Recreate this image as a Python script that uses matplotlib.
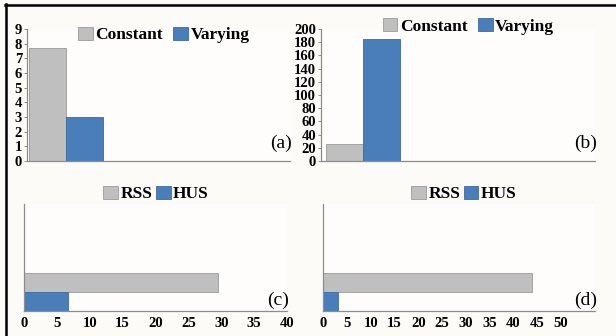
import matplotlib
matplotlib.use("Agg")
import matplotlib.pyplot as plt
from matplotlib.lines import Line2D

plt.rcParams['font.family'] = ['Liberation Serif', 'DejaVu Serif']

#DATA
top_series = ["Constant", "Varying"]
a_values = [7.7, 3.02]
b_values = [26.2, 184.8]
a_ticks = [0, 1, 2, 3, 4, 5, 6, 7, 8, 9]
b_ticks = [0, 20, 40, 60, 80, 100, 120, 140, 160, 180, 200]

bottom_series = ["RSS", "HUS"]
c_values = [29.5, 6.64]
d_values = [43.9, 3.15]
c_ticks = [0, 5, 10, 15, 20, 25, 30, 35, 40]
d_ticks = [0, 5, 10, 15, 20, 25, 30, 35, 40, 45, 50]

gray = "#bfbfbf"
blue = "#4a7ebb"
W, H = 616, 336

fig = plt.figure(figsize=(W / 100, H / 100), dpi=100, facecolor="#fdfbf8")


def px_axes(x0, y0, x1, y1):
    # pixel box (top-left origin) -> figure axes
    return fig.add_axes([x0 / W, 1 - y1 / H, (x1 - x0) / W, (y1 - y0) / H])


def style(ax):
    ax.set_facecolor("#fefdfc")
    for s in ["top", "right"]:
        ax.spines[s].set_visible(False)
    for s in ["left", "bottom"]:
        ax.spines[s].set_color("#8c8c8c")
        ax.spines[s].set_linewidth(0.9)


def legend(ax, xy, colsp):
    ax.legend(loc="center", bbox_to_anchor=xy, ncol=2, frameon=False,
              prop={"weight": "bold", "size": 12.5}, handlelength=0.85,
              handleheight=0.8, handletextpad=0.15, columnspacing=colsp,
              borderaxespad=0, borderpad=0)


def vbars(ax, values, ticks, xmax, start, label, legend_xy):
    cols = [gray, blue]
    edges = ["#9a9a9a", "#3d6b9f"]
    for i, v in enumerate(values):
        ax.bar(start + i, v, width=1, align="edge", color=cols[i],
               edgecolor=edges[i], linewidth=0.6, label=top_series[i])
    ax.set_xlim(0, xmax)
    ax.set_ylim(0, ticks[-1])
    ax.set_yticks(ticks)
    ax.set_yticklabels([str(t) for t in ticks], fontsize=10.5, fontweight="bold")
    ax.tick_params(axis="y", length=2.5, width=0.7, color="#8c8c8c", pad=1)
    ax.set_xticks([])
    style(ax)
    legend(ax, legend_xy, 0.6)
    ax.text(0.965, 0.13, label, transform=ax.transAxes, ha="center",
            va="center", fontsize=14)


def hbars(ax, values, ticks, xmax, label, legend_xy):
    cols = [gray, blue]
    edges = ["#9a9a9a", "#3d6b9f"]
    # RSS on top of HUS
    for i, v in enumerate(values):
        ax.barh(1 - i, v, height=1, align="edge", color=cols[i],
                edgecolor=edges[i], linewidth=0.6, label=bottom_series[i])
    ax.set_ylim(0, 5.6)
    ax.set_xlim(0, xmax)
    ax.set_xticks(ticks)
    ax.set_xticklabels([str(t) for t in ticks], fontsize=10.5, fontweight="bold")
    ax.tick_params(axis="x", length=0, pad=4)
    ax.set_yticks([])
    style(ax)
    legend(ax, legend_xy, 0.2)
    ax.text(0.965, 0.1, label, transform=ax.transAxes, ha="center",
            va="center", fontsize=14)


ax_a = px_axes(27, 29, 290, 161)
vbars(ax_a, a_values, a_ticks, 263 / 37, 0.05, "(a)", (0.52, 0.955))

ax_b = px_axes(321, 29, 595, 161)
vbars(ax_b, b_values, b_ticks, 274 / 37, 0.135, "(b)", (0.538, 1.02))

ax_c = px_axes(24, 204, 287, 311)
hbars(ax_c, c_values, c_ticks, 40, "(c)", (0.502, 1.093))

ax_d = px_axes(323, 204, 595, 311)
hbars(ax_d, d_values, d_ticks, 272 / 4.76, "(d)", (0.518, 1.093))

# black frame at top and left
fig.add_artist(Line2D([5 / W, 1], [1 - 4.5 / H, 1 - 4.5 / H], color="black", lw=1.8))
fig.add_artist(Line2D([5.5 / W, 5.5 / W], [0, 1 - 4 / H], color="black", lw=1.8))

fig.savefig("out.png", dpi=100, facecolor=fig.get_facecolor())
